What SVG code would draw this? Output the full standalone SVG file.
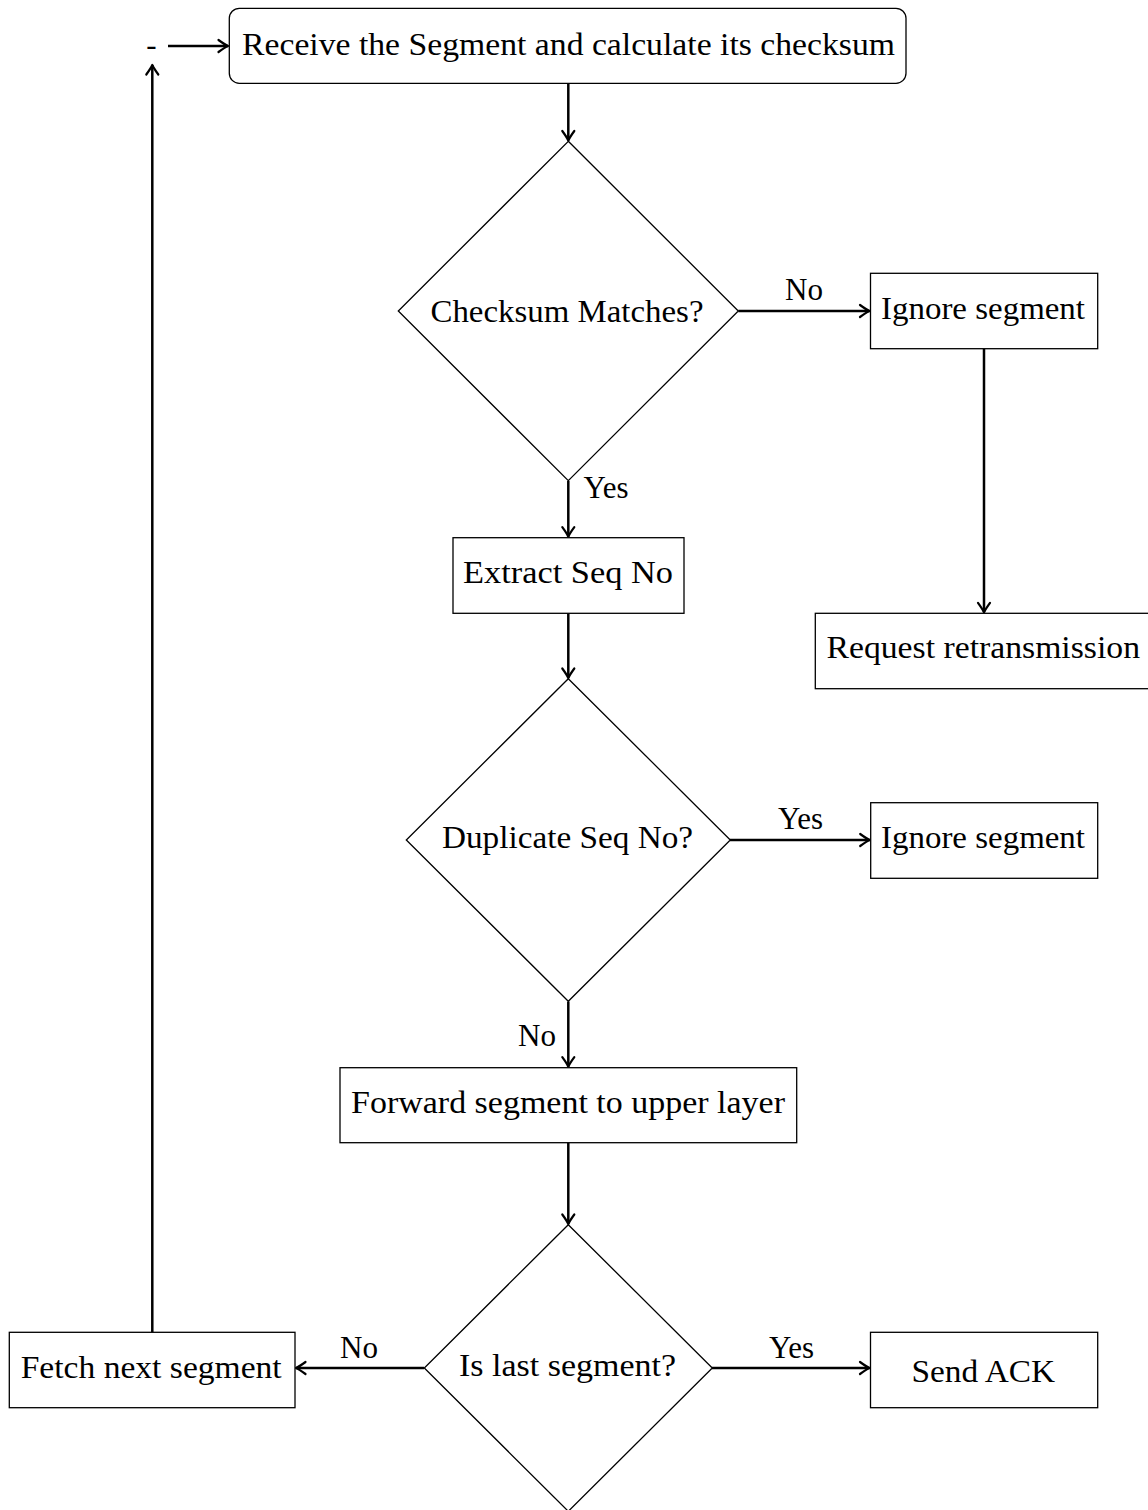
<svg xmlns="http://www.w3.org/2000/svg" width="1148" height="1510" viewBox="0 0 1148 1510">
  <style>
    .box { fill: #ffffff; stroke: #000000; stroke-width: 1.3; }
    .dia { fill: none; stroke: #000000; stroke-width: 1.3; }
    .lbl { font-family: "Liberation Serif", "Times New Roman", serif; font-size: 31px; fill: #000000; }
    .mid { text-anchor: middle; }
    .edge { fill: none; stroke: #000000; stroke-width: 2.5; marker-end: url(#to); }
  </style>
  <defs>
    <marker id="to" markerUnits="userSpaceOnUse" viewBox="-12 -8 14 16" refX="0" refY="0" markerWidth="14" markerHeight="16" orient="auto">
      <path d="M -9.5,-6 Q -3,-1.3 0,0 Q -3,1.3 -9.5,6" fill="none" stroke="#000000" stroke-width="2.2" stroke-linecap="round" stroke-linejoin="round"/>
    </marker>
  </defs>

  <rect width="1148" height="1510" fill="#ffffff"/>

  <!-- connectors -->
  <g id="connectors">
    <line class="edge" x1="168" y1="46" x2="228" y2="46"/>
    <line class="edge" x1="568.3" y1="84" x2="568.3" y2="140.5"/>
    <line class="edge" x1="738.3" y1="311" x2="869.5" y2="311"/>
    <line class="edge" x1="984" y1="349" x2="984" y2="612.3"/>
    <line class="edge" x1="568.3" y1="481" x2="568.3" y2="536.7"/>
    <line class="edge" x1="568.3" y1="613.3" x2="568.3" y2="678"/>
    <line class="edge" x1="730" y1="840" x2="869.7" y2="840"/>
    <line class="edge" x1="568.3" y1="1001.5" x2="568.3" y2="1066.7"/>
    <line class="edge" x1="568.3" y1="1142.7" x2="568.3" y2="1224"/>
    <line class="edge" x1="424" y1="1368" x2="296" y2="1368"/>
    <line class="edge" x1="712" y1="1368" x2="869.5" y2="1368"/>
    <line class="edge" x1="152.3" y1="1332.3" x2="152.3" y2="65"/>
    <!-- branch labels -->
    <text class="lbl" x="785" y="300" textLength="38" lengthAdjust="spacingAndGlyphs">No</text>
    <text class="lbl" x="583.5" y="498" textLength="45" lengthAdjust="spacingAndGlyphs">Yes</text>
    <text class="lbl" x="778" y="829" textLength="45" lengthAdjust="spacingAndGlyphs">Yes</text>
    <text class="lbl" x="518" y="1046" textLength="38" lengthAdjust="spacingAndGlyphs">No</text>
    <text class="lbl" x="340" y="1357.5" textLength="38" lengthAdjust="spacingAndGlyphs">No</text>
    <text class="lbl" x="769" y="1357.5" textLength="45" lengthAdjust="spacingAndGlyphs">Yes</text>
  </g>

  <!-- loop entry mark -->
  <g id="entry">
    <text class="lbl mid" x="151.3" y="55">-</text>
  </g>

  <g id="receive">
    <rect class="box" x="229.3" y="8.3" width="676.7" height="75" rx="10" ry="10"/>
    <text class="lbl" x="242" y="55" textLength="653" lengthAdjust="spacingAndGlyphs">Receive the Segment and calculate its checksum</text>
  </g>

  <g id="checksum-matches">
    <polygon class="dia" points="568.3,141.3 738.3,311 568.3,480.7 398.3,311"/>
    <text class="lbl" x="430.5" y="322" textLength="273" lengthAdjust="spacingAndGlyphs">Checksum Matches?</text>
  </g>

  <g id="ignore-1">
    <rect class="box" x="870.5" y="273.3" width="227.2" height="75.4"/>
    <text class="lbl" x="881" y="319" textLength="204" lengthAdjust="spacingAndGlyphs">Ignore segment</text>
  </g>

  <g id="request-retransmission">
    <rect class="box" x="815.3" y="613.3" width="340" height="75.4"/>
    <text class="lbl" x="826.5" y="657.5" textLength="313.5" lengthAdjust="spacingAndGlyphs">Request retransmission</text>
  </g>

  <g id="extract-seq">
    <rect class="box" x="453" y="537.7" width="231" height="75.6"/>
    <text class="lbl" x="463" y="583" textLength="210" lengthAdjust="spacingAndGlyphs">Extract Seq No</text>
  </g>

  <g id="duplicate-seq">
    <polygon class="dia" points="568.3,678.7 730.3,840 568.3,1001.3 406.3,840"/>
    <text class="lbl" x="442" y="848" textLength="251" lengthAdjust="spacingAndGlyphs">Duplicate Seq No?</text>
  </g>

  <g id="ignore-2">
    <rect class="box" x="870.7" y="802.7" width="227" height="75.6"/>
    <text class="lbl" x="881" y="848" textLength="204" lengthAdjust="spacingAndGlyphs">Ignore segment</text>
  </g>

  <g id="forward">
    <rect class="box" x="340" y="1067.7" width="456.7" height="75"/>
    <text class="lbl" x="351" y="1113" textLength="434" lengthAdjust="spacingAndGlyphs">Forward segment to upper layer</text>
  </g>

  <g id="is-last">
    <polygon class="dia" points="568.3,1224.7 712.3,1368 568.3,1511.3 424.3,1368"/>
    <text class="lbl" x="459" y="1376" textLength="217" lengthAdjust="spacingAndGlyphs">Is last segment?</text>
  </g>

  <g id="fetch-next">
    <rect class="box" x="9.3" y="1332.3" width="285.7" height="75.4"/>
    <text class="lbl" x="20.7" y="1377.5" textLength="261" lengthAdjust="spacingAndGlyphs">Fetch next segment</text>
  </g>

  <g id="send-ack">
    <rect class="box" x="870.5" y="1332.3" width="227.2" height="75.4"/>
    <text class="lbl" x="911.5" y="1381.5" textLength="143.5" lengthAdjust="spacingAndGlyphs">Send ACK</text>
  </g>
</svg>
